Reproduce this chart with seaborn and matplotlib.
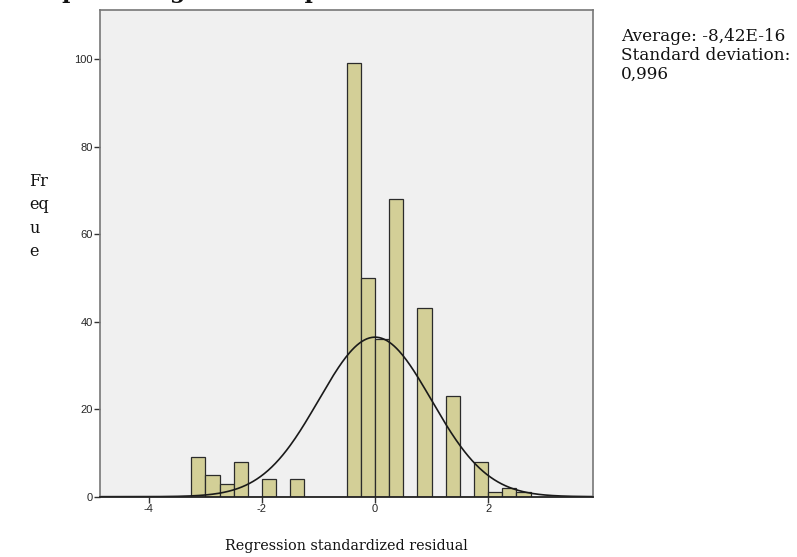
import numpy as np
import pandas as pd
import matplotlib.pyplot as plt
import seaborn as sns

# histogram: left edge of each non-empty bin and its count
bin_left = [-3.25, -3.0, -2.75, -2.5, -2.0, -1.5, -0.5, -0.25, 0.0, 0.25, 0.75, 1.25, 1.75, 2.0, 2.25, 2.5]
counts   = [9, 5, 3, 8, 4, 4, 99, 50, 36, 68, 43, 23, 8, 1, 2, 1]
BIN_W = 0.25
MEAN, SD = -8.42e-16, 0.996

stats_text = "Average: -8,42E-16\nStandard deviation:\n0,996"
x_label = "Regression standardized residual"
y_label = "Fr\neq\nu\ne"
title = "Simple histogram of dependent variable"

sns.set_theme(style="white")
plt.rcParams.update({"font.family": ["Liberation Sans", "DejaVu Sans"],
                     "axes.unicode_minus": False})
SERIF = ["DejaVu Serif"]

df = pd.DataFrame({"mid": np.array(bin_left) + BIN_W / 2, "n": counts})

fig = plt.figure(figsize=(7.97, 5.57), dpi=100)
ax = fig.add_axes([0.1251, 0.1083, 0.6193, 0.8737])
ax.set_facecolor("#f0f0f0")

sns.histplot(data=df, x="mid", weights="n", binwidth=BIN_W, binrange=(-3.25, 2.75),
             color="#d3cf97", edgecolor="#2b2b2b", linewidth=0.9, alpha=1, ax=ax)

# normal curve scaled to the counts
n_total = sum(counts)
xs = np.linspace(-4.87, 3.86, 400)
ys = n_total * BIN_W * np.exp(-0.5 * ((xs - MEAN) / SD) ** 2) / (SD * np.sqrt(2 * np.pi))
sns.lineplot(x=xs, y=ys, color="#1a1a1a", lw=1.2, ax=ax)

ax.set_xlim(-4.87, 3.86)
ax.set_ylim(0, 111.2)
ax.set_xticks([-4, -2, 0, 2])
ax.set_yticks([0, 20, 40, 60, 80, 100])
ax.tick_params(axis="both", direction="out", length=4, width=1, color="#333333",
               labelsize=8, pad=1, bottom=True, left=True)
for side in ("top", "right", "left"):
    ax.spines[side].set_color("#777777")
    ax.spines[side].set_linewidth(1.2)
ax.spines["bottom"].set_color("#222222")
ax.spines["bottom"].set_linewidth(1.3)
ax.set_xlabel(""); ax.set_ylabel("")

fig.text(0.4347, 0.008, x_label, ha="center", va="bottom", fontsize=10.4, family=SERIF,
         color="#111111")
fig.text(0.037, 0.69, y_label, ha="left", va="top", fontsize=11.5, family=SERIF,
         linespacing=1.5, color="#111111")
fig.text(0.779, 0.95, stats_text, ha="left", va="top", fontsize=12.2, family=SERIF,
         linespacing=1.17, color="#111111")
# title sits above the canvas, only its descenders show
fig.text(0.0174, 1.0 + 2 / 557, title, ha="left", va="baseline", fontsize=16,
         family=SERIF, fontweight="bold", color="#111111")

fig.savefig("out.png", dpi=100)
